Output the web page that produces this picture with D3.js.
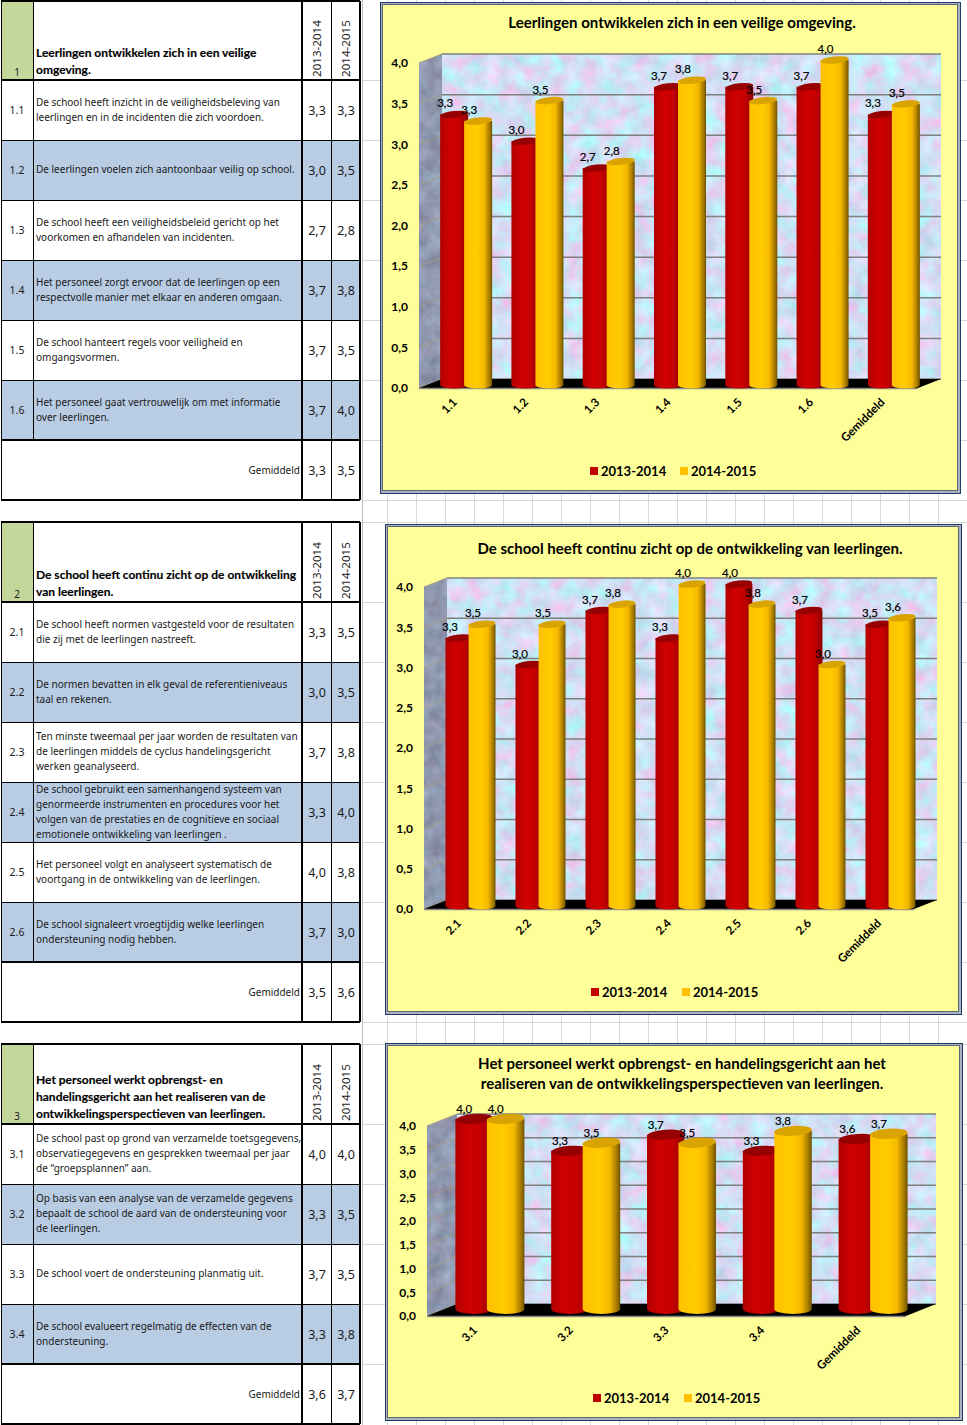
<!DOCTYPE html>
<html><head><meta charset="utf-8">
<script src="https://cdn.jsdelivr.net/npm/d3@7/dist/d3.min.js"></script>
<style>
html,body{margin:0;padding:0;background:#fff;overflow:hidden}
svg{display:block}
.tb{font-family:"Noto Sans",sans-serif;fill:#1a1a1a}
.hd{font-family:Lato,sans-serif;fill:#000;stroke:#000;stroke-width:.15px}
.ch{font-family:Lato,sans-serif;fill:#000}
</style></head><body>
<svg id="c" width="967" height="1425"></svg>
<script>
const seriesNames = ["2013-2014","2014-2015"];
const yTicks = [0,0.5,1,1.5,2,2.5,3,3.5,4];

const number1 = "1";
const heading1 = ["Leerlingen ontwikkelen zich in een veilige","omgeving."];
const chartTitle1 = ["Leerlingen ontwikkelen zich in een veilige omgeving."];
const cats1 = ["1.1","1.2","1.3","1.4","1.5","1.6","Gemiddeld"];
const first1 = [3.33,3.0,2.67,3.67,3.67,3.67,3.33];
const second1 = [3.25,3.5,2.75,3.75,3.5,4.0,3.46];
const rows1 = [
 ["De school heeft inzicht in de veiligheidsbeleving van","leerlingen en in de incidenten die zich voordoen."],
 ["De leerlingen voelen zich aantoonbaar veilig op school."],
 ["De school heeft een veiligheidsbeleid gericht op het","voorkomen en afhandelen van incidenten."],
 ["Het personeel zorgt ervoor dat de leerlingen op een","respectvolle manier met elkaar en anderen omgaan."],
 ["De school hanteert regels voor veiligheid en","omgangsvormen."],
 ["Het personeel gaat vertrouwelijk om met informatie","over leerlingen."]
];

const number2 = "2";
const heading2 = ["De school heeft continu zicht op de ontwikkeling","van leerlingen."];
const chartTitle2 = ["De school heeft continu zicht op de ontwikkeling van leerlingen."];
const cats2 = ["2.1","2.2","2.3","2.4","2.5","2.6","Gemiddeld"];
const first2 = [3.33,3.0,3.67,3.33,4.0,3.67,3.5];
const second2 = [3.5,3.5,3.75,4.0,3.75,3.0,3.58];
const rows2 = [
 ["De school heeft normen vastgesteld voor de resultaten","die zij met de leerlingen nastreeft."],
 ["De normen bevatten in elk geval de referentieniveaus","taal en rekenen."],
 ["Ten minste tweemaal per jaar worden de resultaten van","de leerlingen middels de cyclus handelingsgericht","werken geanalyseerd."],
 ["De school gebruikt een samenhangend systeem van","genormeerde instrumenten en procedures voor het","volgen van de prestaties en de cognitieve en sociaal","emotionele ontwikkeling van leerlingen ."],
 ["Het personeel volgt en analyseert systematisch de","voortgang in de ontwikkeling van de leerlingen."],
 ["De school signaleert vroegtijdig welke leerlingen","ondersteuning nodig hebben."]
];

const number3 = "3";
const heading3 = ["Het personeel werkt opbrengst- en","handelingsgericht aan het realiseren van de","ontwikkelingsperspectieven van leerlingen."];
const chartTitle3 = ["Het personeel werkt opbrengst- en handelingsgericht aan het","realiseren van de ontwikkelingsperspectieven van leerlingen."];
const cats3 = ["3.1","3.2","3.3","3.4","Gemiddeld"];
const first3 = [4.0,3.33,3.67,3.33,3.58];
const second3 = [4.0,3.5,3.5,3.75,3.69];
const rows3 = [
 ["De school past op grond van verzamelde toetsgegevens,","observatiegegevens en gesprekken  tweemaal per jaar","de “groepsplannen”  aan."],
 ["Op basis van een analyse van de verzamelde gegevens","bepaalt de school de aard van de ondersteuning  voor","de leerlingen."],
 ["De school voert de ondersteuning planmatig uit."],
 ["De school evalueert regelmatig de effecten van de","ondersteuning."]
];
const avgLabel = "Gemiddeld";

const comma = v => v.toFixed(1).replace(".",",");
const svg = d3.select("#c");
const defs = svg.append("defs");

function grad(id,stops){
  const g = defs.append("linearGradient").attr("id",id).attr("x1",0).attr("x2",1).attr("y1",0).attr("y2",0);
  stops.forEach(s=>g.append("stop").attr("offset",s[0]).attr("stop-color",s[1]));
}
grad("gRed",[[0,"#b00000"],[.35,"#d00000"],[.7,"#c40000"],[1,"#8c0000"]]);
grad("gYel",[[0,"#ffc000"],[.45,"#ffcc00"],[.72,"#f5b800"],[.9,"#a87c00"],[1,"#6e5200"]]);

function tex(id,m,freq){
  const f = defs.append("filter").attr("id",id).attr("x",0).attr("y",0).attr("width",1).attr("height",1)
    .attr("color-interpolation-filters","sRGB");
  f.append("feTurbulence").attr("type","fractalNoise").attr("baseFrequency",freq).attr("numOctaves",5).attr("seed",7);
  f.append("feColorMatrix").attr("type","matrix").attr("values",m);
}
tex("wallTex",".4 0 0 0 .62  -.2 .25 0 0 .85  0 .12 0 0 .9  0 0 0 0 1",.06);
tex("sideTex",".1 .2 0 0 .41  0 .25 0 0 .47  0 .25 0 0 .56  0 0 0 0 1",.07);

// spreadsheet cell lines behind everything
const bg = svg.append("g").attr("stroke","#d8d8d8").attr("stroke-width",1).attr("shape-rendering","crispEdges");
d3.range(387,967,29).forEach(x=>bg.append("line").attr("x1",x).attr("x2",x).attr("y1",0).attr("y2",1425));
[80,140,200,260,320,380,440,500,522,602,662,722,782,842,902,962,1022,1044,1124,1184,1244,1304,1364].forEach(y=>
  bg.append("line").attr("x1",362).attr("x2",967).attr("y1",y).attr("y2",y));
bg.append("line").attr("x1",362).attr("x2",362).attr("y1",0).attr("y2",1425).attr("stroke","#bdbdbd");

function table(t){
  const g = svg.append("g");
  const rowH = d3.scaleLinear().domain([0,t.rows.length+1]).range([t.top+t.head, t.bottom]);
  const n = t.rows.length;
  g.append("rect").attr("x",1).attr("y",t.top).attr("width",359).attr("height",t.bottom-t.top).attr("fill","#fff");
  g.append("rect").attr("x",1).attr("y",t.top).attr("width",32).attr("height",t.head).attr("fill","#c4d79b");
  t.rows.forEach((r,i)=>{
    if(i%2==1) g.append("rect").attr("x",1).attr("y",rowH(i)).attr("width",359).attr("height",rowH(i+1)-rowH(i)).attr("fill","#b8cce4");
  });
  const ln = (x1,y1,x2,y2,w)=>g.append("line").attr("x1",x1).attr("y1",y1).attr("x2",x2).attr("y2",y2)
     .attr("stroke","#000").attr("stroke-width",w).attr("shape-rendering","crispEdges");
  d3.range(1,n+1).forEach(i=>ln(1,rowH(i),360,rowH(i),i==n?2:1));
  ln(1,t.top+t.head,360,t.top+t.head,2);
  ln(33,t.top,33,rowH(n),1);
  ln(302,t.top,302,t.bottom,2); ln(331,t.top,331,t.bottom,1);
  ln(360,t.top,360,t.bottom,2); ln(1,t.top,1,t.bottom,1);
  ln(1,t.top,360,t.top,2); ln(1,t.bottom,360,t.bottom,2);

  const txt = (x,y,s,size,anchor,weight,cls)=>g.append("text").attr("class",cls||"tb").attr("x",x).attr("y",y).attr("dy",".35em")
     .attr("font-size",size).attr("text-anchor",anchor||"start").attr("font-weight",weight||400).text(s);
  txt(17,t.top+t.head-8,t.number,10,"middle");
  t.heading.forEach((s,i)=>txt(36,t.top+t.head-10.5-(t.heading.length-1-i)*17,s,t.hSize,"start",700,"hd"));
  seriesNames.forEach((s,i)=>{
    const cx = i?346:317;
    g.append("text").attr("class","tb").attr("font-size",11.6).attr("text-anchor","start").attr("dy",".35em")
      .attr("transform",`translate(${cx},${t.top+t.head-3}) rotate(-90)`).text(s);
  });
  t.rows.forEach((r,i)=>{
    const cy=(rowH(i)+rowH(i+1))/2;
    txt(17,cy,t.cats[i],10.5,"middle");
    r.forEach((s,j)=>txt(36,cy+(j-(r.length-1)/2)*15-.5,s,t.size));
    txt(317,cy+1,comma(t.a[i]),12.5,"middle");
    txt(346,cy+1,comma(t.b[i]),12.5,"middle");
  });
  const cy=(rowH(n)+t.bottom)/2;
  txt(300,cy,avgLabel,t.size,"end");
  txt(317,cy+1,comma(t.a[n]),12.5,"middle");
  txt(346,cy+1,comma(t.b[n]),12.5,"middle");
}

let clipN=0;
function chart(c){
  const g = svg.append("g");
  const f=c.frame;
  g.append("rect").attr("x",f[0]+.5).attr("y",f[1]+.5).attr("width",f[2]-f[0]).attr("height",f[3]-f[1])
    .attr("fill","#aab2bd").attr("stroke","#1f3864");
  g.append("rect").attr("x",f[0]+2.5).attr("y",f[1]+2.5).attr("width",f[2]-f[0]-5).attr("height",f[3]-f[1]-5)
    .attr("fill","#ffff99").attr("stroke","#5a6676");
  c.title.forEach((s,i)=>g.append("text").attr("class","ch").attr("x",c.titleX).attr("y",c.titleY+i*20).attr("dy",".35em")
    .attr("text-anchor","middle").attr("font-weight",700).attr("font-size",15).text(s));

  const y = d3.scaleLinear().domain([0,4]).range([c.y0,c.y4]);
  const x = d3.scaleBand().domain(c.cats).range([c.x0,c.x1]);
  const {dx,dy} = c;

  const clip = (id,pts)=>defs.append("clipPath").attr("id",id).append("polygon").attr("points",pts.map(p=>p.join(",")).join(" "));
  const idN = ++clipN;
  clip("b"+idN,[[c.x0+dx,y(4)-dy],[c.x1+dx,y(4)-dy],[c.x1+dx,y(0)-dy],[c.x0+dx,y(0)-dy]]);
  clip("s"+idN,[[c.x0,y(0)],[c.x0,y(4)],[c.x0+dx,y(4)-dy],[c.x0+dx,y(0)-dy]]);
  g.append("g").attr("clip-path",`url(#b${idN})`).append("rect").attr("x",c.x0+dx).attr("y",y(4)-dy)
    .attr("width",c.x1-c.x0).attr("height",y(0)-y(4)).attr("filter","url(#wallTex)");
  g.append("g").attr("clip-path",`url(#s${idN})`).append("rect").attr("x",c.x0).attr("y",y(4)-dy)
    .attr("width",dx).attr("height",y(0)-y(4)+dy).attr("filter","url(#sideTex)");
  // gridlines
  g.selectAll(".gb").data(yTicks).join("line").attr("x1",c.x0+dx).attr("x2",c.x1+dx).attr("y1",d=>y(d)-dy).attr("y2",d=>y(d)-dy)
    .attr("stroke","#7f7f7f").attr("stroke-width",1.5);
  g.selectAll(".gs").data(yTicks).join("line").attr("x1",c.x0).attr("x2",c.x0+dx).attr("y1",d=>y(d)).attr("y2",d=>y(d)-dy)
    .attr("stroke","#a39a88").attr("stroke-width",1);
  // floor
  g.append("polygon").attr("points",[[c.x0,y(0)],[c.x1,y(0)],[c.x1+dx,y(0)-dy],[c.x0+dx,y(0)-dy]].map(p=>p.join(",")).join(" "))
    .attr("fill","#000");
  g.append("line").attr("x1",c.x0).attr("x2",c.x1).attr("y1",y(0)+.5).attr("y2",y(0)+.5).attr("stroke","#8c8c8c").attr("stroke-width",1.5);

  const inner = d3.scaleBand().domain([0,1]).range([0,c.groupW]).paddingInner(c.overlap);
  const bw = inner.bandwidth();
  const rx = bw/2, ry = c.ry;
  const series = [{v:c.a,grad:"gRed",top:"#960000"},{v:c.b,grad:"gYel",top:"#d9a300"}];
  c.cats.forEach((cat,i)=>{
    const gx = x(cat)+x.bandwidth()/2+dx/2-c.groupW/2;
    series.forEach((s,k)=>{
      const L = gx+inner(k), R=L+bw, T=y(s.v[i])-c.lift, B=y(0)-c.lift;
      g.append("path").attr("fill",`url(#${s.grad})`)
        .attr("d",`M${L},${T}L${L},${B}A${rx},${ry} 0 0 0 ${R},${B}L${R},${T}Z`);
      g.append("ellipse").attr("cx",L+rx).attr("cy",T).attr("rx",rx).attr("ry",ry).attr("fill",s.top)
        .attr("transform",`rotate(${-c.tilt},${L+rx},${T})`);
    });
  });
  // data labels after all bars
  c.cats.forEach((cat,i)=>{
    const gx = x(cat)+x.bandwidth()/2+dx/2-c.groupW/2;
    series.forEach((s,k)=>{
      g.append("text").attr("class","ch").attr("x",gx+inner(k)+rx-c.labelDx).attr("y",y(s.v[i])-c.lift-c.labelDy).attr("dy",".35em")
        .attr("text-anchor","middle").attr("font-size",11.5).attr("stroke","#000").attr("stroke-width",.2).text(comma(s.v[i]));
    });
  });

  const ax = g.append("g").attr("transform",`translate(${c.x0},0)`)
    .call(d3.axisLeft(y).tickValues(yTicks).tickSize(0).tickPadding(11).tickFormat(comma));
  ax.select(".domain").remove();
  ax.selectAll("text").attr("font-family","Lato,sans-serif").attr("font-size",12).attr("font-weight",700).attr("fill","#000");

  const bx = g.append("g").attr("transform",`translate(0,${y(0)})`).call(d3.axisBottom(x).tickSize(0).tickPadding(0));
  bx.select(".domain").remove();
  bx.selectAll("text").attr("font-family","Lato,sans-serif").attr("font-size",11.6).attr("font-weight",700).attr("fill","#000")
    .attr("text-anchor","end").attr("dy",0).attr("y",0)
    .attr("transform","translate(3,15) rotate(-45)");

  const lg=[c.legend[0],c.legend[1]];
  seriesNames.forEach((s,i)=>{
    g.append("rect").attr("x",lg[i]).attr("y",c.legendY-4).attr("width",8).attr("height",8).attr("fill",i?"#ffc000":"#c00000");
    g.append("text").attr("class","ch").attr("x",lg[i]+11).attr("y",c.legendY).attr("dy",".35em")
      .attr("font-size",13).attr("font-weight",700).text(s);
  });
}

table({top:1,head:79,bottom:500,number:number1,heading:heading1,rows:rows1,cats:cats1,a:first1,b:second1,size:10,hSize:12});
table({top:522,head:80,bottom:1022,number:number2,heading:heading2,rows:rows2,cats:cats2,a:first2,b:second2,size:10,hSize:12});
table({top:1044,head:80,bottom:1424,number:number3,heading:heading3,rows:rows3,cats:cats3,a:first3,b:second3,size:10,hSize:12});

chart({frame:[380,2,960,493],title:chartTitle1,titleX:682,titleY:23,cats:cats1,a:first1,b:second1,
  x0:419,x1:918,y0:388,y4:63,dx:23,dy:9,groupW:52,overlap:-1/6,ry:3.5,lift:3,tilt:6,labelDx:9,labelDy:11,legend:[590,680],legendY:471});
chart({frame:[385,524,961,1014],title:chartTitle2,titleX:690,titleY:549,cats:cats2,a:first2,b:second2,
  x0:424,x1:914,y0:909,y4:587,dx:23,dy:9,groupW:50,overlap:-1/6,ry:3.5,lift:3,tilt:6,labelDx:9,labelDy:11,legend:[591,682],legendY:992});
chart({frame:[385,1043,962,1420],title:chartTitle3,titleX:682,titleY:1064,cats:cats3,a:first3,b:second3,
  x0:427,x1:906,y0:1316,y4:1126,dx:30,dy:12,groupW:69,overlap:-.19,ry:5,lift:7,tilt:4,labelDx:10,labelDy:10,legend:[593,684],legendY:1398});
</script>
</body></html>
